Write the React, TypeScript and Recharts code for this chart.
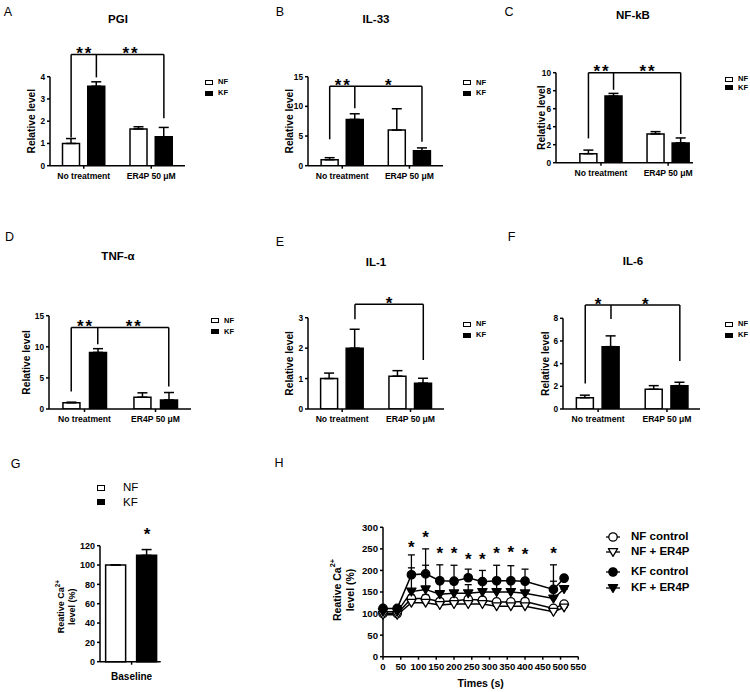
import React from "react";
import {
  ComposedChart,
  Bar,
  Line,
  XAxis,
  YAxis,
  ErrorBar,
  Cell,
  ReferenceLine,
  ReferenceDot,
} from "recharts";

const FONT = "'Liberation Sans', Arial, Helvetica, sans-serif";

// shared categories / series of the bar panels
const GROUPS = ["No treatment", "ER4P 50 μM"];
const SERIES = ["NF", "KF"];

// A  PGI
const PGI_NF = [1.0, 1.65];
const PGI_NF_ERR = [0.22, 0.1];
const PGI_KF = [3.57, 1.3];
const PGI_KF_ERR = [0.2, 0.42];
// B  IL-33
const IL33_NF = [1.0, 6.0];
const IL33_NF_ERR = [0.35, 3.6];
const IL33_KF = [7.8, 2.5];
const IL33_KF_ERR = [0.95, 0.5];
// C  NF-kB
const NFKB_NF = [1.0, 3.2];
const NFKB_NF_ERR = [0.4, 0.25];
const NFKB_KF = [7.4, 2.2];
const NFKB_KF_ERR = [0.3, 0.55];
// D  TNF-α
const TNF_NF = [1.0, 1.9];
const TNF_NF_ERR = [0.1, 0.7];
const TNF_KF = [9.1, 1.45];
const TNF_KF_ERR = [0.6, 1.2];
// E  IL-1
const IL1_NF = [1.0, 1.08];
const IL1_NF_ERR = [0.18, 0.18];
const IL1_KF = [2.0, 0.85];
const IL1_KF_ERR = [0.62, 0.16];
// F  IL-6
const IL6_NF = [1.0, 1.74];
const IL6_NF_ERR = [0.22, 0.32];
const IL6_KF = [5.5, 2.06];
const IL6_KF_ERR = [0.95, 0.3];

// G  baseline Ca2+
const G_GROUP = ["Baseline"];
const G_NF = [100];
const G_NF_ERR = [0];
const G_KF = [110];
const G_KF_ERR = [6];
const G_Y_TICKS = [0, 20, 40, 60, 80, 100, 120];
const G_STAR_Y = 136;

// H  Ca2+ time course
const H_SERIES = ["NF control", "NF + ER4P", "KF control", "KF + ER4P"];
const TIMES = [0, 40, 80, 120, 160, 200, 240, 280, 320, 360, 400, 480, 510];
const NF_CONTROL = [100, 100, 135, 135, 128, 129, 133, 131, 127, 127, 128, 112, 122];
const NF_CONTROL_ERR = [3, 3, 8, 8, 6, 6, 7, 6, 6, 6, 6, 6, 5];
const NF_ER4P = [97, 97, 125, 125, 120, 122, 122, 122, 117, 117, 117, 104, 114];
const NF_ER4P_ERR = [3, 3, 5, 5, 5, 5, 5, 5, 5, 5, 5, 5, 4];
const KF_CONTROL = [112, 112, 190, 192, 176, 175, 183, 174, 176, 176, 175, 156, 182];
const KF_CONTROL_ERR = [4, 4, 46, 58, 37, 37, 20, 26, 36, 35, 28, 57, 0];
const KF_ER4P = [104, 104, 151, 156, 145, 147, 147, 150, 150, 150, 147, 135, 157];
const KF_ER4P_ERR = [4, 4, 55, 56, 33, 25, 20, 20, 30, 30, 25, 40, 0];
const H_X_TICKS = [0, 50, 100, 150, 200, 250, 300, 350, 400, 450, 500, 550];
const H_Y_TICKS = [0, 50, 100, 150, 200, 250, 300];
const STAR_TIMES = [80, 120, 160, 200, 240, 280, 320, 360, 400, 480];
const STAR_Y = [264, 286, 248, 248, 234, 234, 250, 252, 246, 249];

// ---- layout helpers ----
type Geo = { left: number; top: number; w: number; h: number; x0: number; x1: number; yt: number; yb: number };
const YW = 30;
const XH = 30;
const margins = (g: Geo) => ({
  left: g.x0 - g.left - YW,
  right: g.left + g.w - g.x1,
  top: g.yt - g.top,
  bottom: g.top + g.h - g.yb - XH,
});

const axisStroke = { stroke: "#000", strokeWidth: 1.5 };
const tickFont = (size: number) => ({ fill: "#000", fontSize: size, fontWeight: 700, fontFamily: FONT });

function Txt({ x, y, size, bold, anchor, children }: any) {
  return (
    <div
      style={{
        position: "absolute",
        left: x,
        top: y,
        transform: anchor === "start" ? "translate(0,-50%)" : "translate(-50%,-50%)",
        fontFamily: FONT,
        fontSize: size,
        fontWeight: bold ? 700 : 400,
        lineHeight: 1,
        whiteSpace: "nowrap",
        color: "#000",
      }}
    >
      {children}
    </div>
  );
}

// rotated y-axis title, lines drawn left-to-right
const yTitle = (lines: React.ReactNode[], dist: number, size: number, gap: number, dyc = 0) => (props: any) => {
  const vb = props.viewBox || {};
  const cx = vb.x + vb.width - dist;
  const cy = vb.y + vb.height / 2 + dyc;
  return (
    <g transform={`translate(${cx},${cy}) rotate(-90)`}>
      {lines.map((ln, i) => (
        <text
          key={i}
          x={0}
          y={(i - (lines.length - 1) / 2) * gap}
          textAnchor="middle"
          dominantBaseline="central"
          fontFamily={FONT}
          fontWeight={700}
          fontSize={size}
          fill="#000"
        >
          {ln}
        </text>
      ))}
    </g>
  );
};

const starShape = (txt: string, size: number, lift: number) => (p: any) => (
  <text
    x={p.cx + (txt.length > 1 ? 1 : 0)}
    y={p.cy - lift + size * 0.57}
    textAnchor="middle"
    fontFamily={FONT}
    fontWeight={700}
    fontSize={size}
    letterSpacing={txt.length > 1 ? 2 : 0}
    fill="#000"
  >
    {txt}
  </text>
);

// ---- bar panels A–F ----
const BAR_D = 0.187;
const barX = (i: number) => Math.floor(i / 2) + 1 + (i % 2 ? BAR_D : -BAR_D);

type Bracket = { top: number; legs: [number, number][]; stars: [number, number, string][] };
type Panel = {
  id: string;
  title: string;
  geo: Geo;
  lo: number;
  hi: number;
  yMax: number;
  yTicks: number[];
  nf: number[];
  nfErr: number[];
  kf: number[];
  kfErr: number[];
  bracket: Bracket;
  letterAt: [number, number];
  titleAt: [number, number];
  legAt: [number, number, number];
  labelDist: number;
};

const PANELS: Panel[] = [
  {
    id: "A", title: "PGI",
    geo: { left: 0, top: 0, w: 250, h: 220, x0: 50, x1: 185, yt: 76.7, yb: 165.7 },
    lo: 0.5, hi: 2.5, yMax: 4, yTicks: [0, 1, 2, 3, 4],
    nf: PGI_NF, nfErr: PGI_NF_ERR, kf: PGI_KF, kfErr: PGI_KF_ERR,
    bracket: { top: 5.0, legs: [[0, 1.27], [1, 3.97], [3, 2.13]], stars: [[0, 1, "**"], [1, 3, "**"]] },
    letterAt: [8, 12], titleAt: [118, 20], legAt: [205, 82, 11], labelDist: 18.3,
  },
  {
    id: "B", title: "IL-33",
    geo: { left: 250, top: 0, w: 250, h: 220, x0: 308, x1: 443, yt: 76.7, yb: 165.7 },
    lo: 0.49, hi: 2.5, yMax: 15, yTicks: [0, 5, 10, 15],
    nf: IL33_NF, nfErr: IL33_NF_ERR, kf: IL33_KF, kfErr: IL33_KF_ERR,
    bracket: { top: 13.4, legs: [[0, 4.45], [1, 9.7], [3, 4.05]], stars: [[0, 1, "**"], [1, 3, "*"]] },
    letterAt: [280, 12], titleAt: [376, 20], legAt: [463, 82.5, 10.5], labelDist: 19,
  },
  {
    id: "C", title: "NF-kB",
    geo: { left: 500, top: 0, w: 250, h: 220, x0: 556, x1: 693, yt: 72.7, yb: 162.7 },
    lo: 0.33, hi: 2.37, yMax: 10, yTicks: [0, 2, 4, 6, 8, 10],
    nf: NFKB_NF, nfErr: NFKB_NF_ERR, kf: NFKB_KF, kfErr: NFKB_KF_ERR,
    bracket: { top: 10.0, legs: [[0, 2.7], [1, 8.1], [3, 3.2]], stars: [[0, 1, "**"], [1, 3, "**"]] },
    letterAt: [509, 12], titleAt: [633, 16], legAt: [725, 79.3, 8.5], labelDist: 15,
  },
  {
    id: "D", title: "TNF-α",
    geo: { left: 0, top: 220, w: 250, h: 230, x0: 49, x1: 191, yt: 315.7, yb: 409 },
    lo: 0.5, hi: 2.5, yMax: 15, yTicks: [0, 5, 10, 15],
    nf: TNF_NF, nfErr: TNF_NF_ERR, kf: TNF_KF, kfErr: TNF_KF_ERR,
    bracket: { top: 13.1, legs: [[0, 2.8], [1, 10.4], [3, 3.6]], stars: [[0, 1, "**"], [1, 3, "**"]] },
    letterAt: [9.5, 236.5], titleAt: [118, 257], legAt: [211, 320.7, 11], labelDist: 22.3,
  },
  {
    id: "E", title: "IL-1",
    geo: { left: 250, top: 220, w: 250, h: 230, x0: 308, x1: 444, yt: 317.7, yb: 409 },
    lo: 0.5, hi: 2.49, yMax: 3, yTicks: [0, 1, 2, 3],
    nf: IL1_NF, nfErr: IL1_NF_ERR, kf: IL1_KF, kfErr: IL1_KF_ERR,
    bracket: { top: 3.44, legs: [[1, 2.95], [3, 1.61]], stars: [[1, 3, "*"]] },
    letterAt: [280, 241.5], titleAt: [376, 263], legAt: [463, 324, 11], labelDist: 18.7,
  },
  {
    id: "F", title: "IL-6",
    geo: { left: 500, top: 220, w: 250, h: 230, x0: 563, x1: 700, yt: 318.3, yb: 409 },
    lo: 0.49, hi: 2.48, yMax: 8, yTicks: [0, 2, 4, 6, 8],
    nf: IL6_NF, nfErr: IL6_NF_ERR, kf: IL6_KF, kfErr: IL6_KF_ERR,
    bracket: { top: 9.18, legs: [[0, 2.26], [1, 7.94], [3, 4.24]], stars: [[0, 1, "*"], [1, 3, "*"]] },
    letterAt: [511.5, 237], titleAt: [633, 262], legAt: [725, 324, 11], labelDist: 18,
  },
];

function BarPanel({ p }: { p: Panel }) {
  const g = p.geo;
  const rows: any[] = [];
  GROUPS.forEach((_, k) => {
    rows.push({ x: barX(k * 2), v: p.nf[k], err: [0, p.nfErr[k]], s: 0 });
    rows.push({ x: barX(k * 2 + 1), v: p.kf[k], err: [0, p.kfErr[k]], s: 1 });
  });
  const b = p.bracket;
  const legXs = b.legs.map(([i]) => barX(i));
  return (
    <>
      <Txt x={p.letterAt[0]} y={p.letterAt[1]} size={12.5}>{p.id}</Txt>
      <Txt x={p.titleAt[0]} y={p.titleAt[1]} size={11.5} bold>{p.title}</Txt>
      <div style={{ position: "absolute", left: g.left, top: g.top }}>
        <ComposedChart width={g.w} height={g.h} data={rows} margin={margins(g)}>
          <XAxis
            type="number"
            dataKey="x"
            domain={[p.lo, p.hi]}
            ticks={[1, 2]}
            interval={0}
            tickFormatter={(v: number) => GROUPS[v - 1]}
            tick={tickFont(8.6)}
            tickSize={3}
            tickMargin={4}
            axisLine={axisStroke}
            tickLine={axisStroke}
            height={XH}
            allowDataOverflow
          />
          <YAxis
            type="number"
            domain={[0, p.yMax]}
            ticks={p.yTicks}
            interval={0}
            tick={tickFont(8.3)}
            tickSize={3}
            axisLine={axisStroke}
            tickLine={axisStroke}
            width={YW}
            allowDataOverflow
            label={yTitle(["Relative level"], p.labelDist, 10.2, 0)}
          />
          <Bar dataKey="v" barSize={17} stroke="#000" strokeWidth={1.5} isAnimationActive={false}>
            {rows.map((r, i) => (
              <Cell key={i} fill={r.s ? "#000" : "#fff"} />
            ))}
            <ErrorBar dataKey="err" width={5} stroke="#000" strokeWidth={1.5} isAnimationActive={false} />
          </Bar>
          <ReferenceLine
            segment={[{ x: Math.min(...legXs), y: b.top }, { x: Math.max(...legXs), y: b.top }]}
            stroke="#000"
            strokeWidth={1.5}
            ifOverflow="visible"
          />
          {b.legs.map(([i, bottom], k) => (
            <ReferenceLine
              key={"leg" + k}
              segment={[{ x: barX(i), y: b.top }, { x: barX(i), y: bottom }]}
              stroke="#000"
              strokeWidth={1.5}
              ifOverflow="visible"
            />
          ))}
          {b.stars.map(([i, j, txt], k) => (
            <ReferenceDot
              key={"star" + k}
              x={(barX(i) + barX(j)) / 2}
              y={b.top}
              r={0}
              ifOverflow="visible"
              shape={starShape(txt, 17, 5)}
            />
          ))}
        </ComposedChart>
      </div>
      {SERIES.map((s, k) => (
        <React.Fragment key={s}>
          <div
            style={{
              position: "absolute",
              left: p.legAt[0],
              top: p.legAt[1] + k * p.legAt[2] - 2.5,
              width: 8,
              height: 5,
              boxSizing: "border-box",
              border: "1px solid #000",
              background: k ? "#000" : "#fff",
            }}
          />
          <Txt x={p.legAt[0] + 13} y={p.legAt[1] + k * p.legAt[2]} size={7.5} bold anchor="start">{s}</Txt>
        </React.Fragment>
      ))}
    </>
  );
}

// ---- panel G ----
const G_GEO: Geo = { left: 0, top: 450, w: 230, h: 242, x0: 100, x1: 160.7, yt: 545.7, yb: 661.7 };
const G_D = 0.245;
const caLines = (size: number) => [
  <>
    Reative Ca
    <tspan dy={-size * 0.4} fontSize={size * 0.7}>2+</tspan>
  </>,
  "level (%)",
];

function PanelG() {
  const rows = [
    { x: 1 - G_D, v: G_NF[0], err: [0, G_NF_ERR[0]], s: 0 },
    { x: 1 + G_D, v: G_KF[0], err: [0, G_KF_ERR[0]], s: 1 },
  ];
  return (
    <>
      <Txt x={15.5} y={464} size={12.5}>G</Txt>
      {SERIES.map((s, k) => (
        <React.Fragment key={s}>
          <div
            style={{
              position: "absolute",
              left: 97,
              top: 485 + k * 14,
              width: 8,
              height: 6,
              boxSizing: "border-box",
              border: "1.2px solid #000",
              background: k ? "#000" : "#fff",
            }}
          />
          <Txt x={123} y={488 + k * 14.5} size={11.5} anchor="start">{s}</Txt>
        </React.Fragment>
      ))}
      <div style={{ position: "absolute", left: G_GEO.left, top: G_GEO.top }}>
        <ComposedChart width={G_GEO.w} height={G_GEO.h} data={rows} margin={margins(G_GEO)}>
          <XAxis
            type="number"
            dataKey="x"
            domain={[0.5, 1.46]}
            ticks={[1]}
            interval={0}
            tickFormatter={() => G_GROUP[0]}
            tick={tickFont(10)}
            tickSize={3}
            tickMargin={8.5}
            axisLine={axisStroke}
            tickLine={axisStroke}
            height={XH}
            allowDataOverflow
          />
          <YAxis
            type="number"
            domain={[0, 120]}
            ticks={G_Y_TICKS}
            interval={0}
            tick={tickFont(9)}
            tickSize={3}
            axisLine={axisStroke}
            tickLine={axisStroke}
            width={YW}
            label={yTitle(caLines(9), 33.8, 9, 11, 3)}
          />
          <Bar dataKey="v" barSize={20} stroke="#000" strokeWidth={1.5} isAnimationActive={false}>
            {rows.map((r, i) => (
              <Cell key={i} fill={r.s ? "#000" : "#fff"} />
            ))}
            <ErrorBar dataKey="err" width={5} stroke="#000" strokeWidth={1.5} isAnimationActive={false} />
          </Bar>
          <ReferenceDot x={1 + G_D} y={G_STAR_Y} r={0} ifOverflow="visible" shape={starShape("*", 17, 0)} />
        </ComposedChart>
      </div>
    </>
  );
}

// ---- panel H ----
const H_GEO: Geo = { left: 230, top: 450, w: 520, h: 242, x0: 383, x1: 578.3, yt: 527.3, yb: 656.7 };

function Marker({ kind, cx, cy }: { kind: string; cx: number; cy: number }) {
  if (kind === "oc" || kind === "fc")
    return <circle cx={cx} cy={cy} r={4.2} fill={kind === "fc" ? "#000" : "#fff"} stroke="#000" strokeWidth={1.3} />;
  return (
    <polygon
      points={`${cx - 4.6},${cy - 3.4} ${cx + 4.6},${cy - 3.4} ${cx},${cy + 4.4}`}
      fill={kind === "ft" ? "#000" : "#fff"}
      stroke="#000"
      strokeWidth={1.3}
      strokeLinejoin="round"
    />
  );
}
const H_KINDS = ["oc", "ot", "fc", "ft"];
const dotFor = (kind: string) => (p: any) =>
  p.cx == null ? <g key={`e${p.index}`} /> : <Marker key={`d${p.index}`} kind={kind} cx={p.cx} cy={p.cy} />;

function PanelH() {
  const rows = TIMES.map((t, i) => ({
    t,
    nfc: NF_CONTROL[i],
    nfcE: [0, NF_CONTROL_ERR[i]],
    nfe: NF_ER4P[i],
    nfeE: [0, NF_ER4P_ERR[i]],
    kfc: KF_CONTROL[i],
    kfcE: [0, KF_CONTROL_ERR[i]],
    kfe: KF_ER4P[i],
    kfeE: [0, KF_ER4P_ERR[i]],
  }));
  const keys = ["nfc", "nfe", "kfc", "kfe"];
  const legY = [537, 552, 572, 588];
  return (
    <>
      <Txt x={279} y={462.5} size={12.5}>H</Txt>
      <div style={{ position: "absolute", left: H_GEO.left, top: H_GEO.top }}>
        <ComposedChart width={H_GEO.w} height={H_GEO.h} data={rows} margin={margins(H_GEO)}>
          <XAxis
            type="number"
            dataKey="t"
            domain={[0, 550]}
            ticks={H_X_TICKS}
            interval={0}
            tick={tickFont(9.6)}
            tickSize={3}
            tickMargin={3}
            axisLine={axisStroke}
            tickLine={axisStroke}
            height={XH}
            label={(props: any) => {
              const vb = props.viewBox || {};
              return (
                <text
                  x={vb.x + vb.width / 2}
                  y={vb.y + 26}
                  textAnchor="middle"
                  dominantBaseline="central"
                  fontFamily={FONT}
                  fontWeight={700}
                  fontSize={10.6}
                  fill="#000"
                >
                  Times (s)
                </text>
              );
            }}
          />
          <YAxis
            type="number"
            domain={[0, 300]}
            ticks={H_Y_TICKS}
            interval={0}
            tick={tickFont(9.6)}
            tickSize={3}
            axisLine={axisStroke}
            tickLine={axisStroke}
            width={YW}
            label={yTitle(caLines(10.5), 40, 10.5, 13, -2)}
          />
          {keys.map((k, i) => (
            <Line
              key={k}
              type="linear"
              dataKey={k}
              stroke="#000"
              strokeWidth={1.5}
              dot={dotFor(H_KINDS[i])}
              activeDot={false}
              isAnimationActive={false}
            >
              <ErrorBar dataKey={k + "E"} width={3.5} stroke="#000" strokeWidth={1.3} isAnimationActive={false} />
            </Line>
          ))}
          {STAR_TIMES.map((t, i) => (
            <ReferenceDot key={t} x={t} y={STAR_Y[i]} r={0} ifOverflow="visible" shape={starShape("*", 17, 0)} />
          ))}
        </ComposedChart>
      </div>
      {H_SERIES.map((s, i) => (
        <React.Fragment key={s}>
          <svg style={{ position: "absolute", left: 604, top: legY[i] - 6 }} width={18} height={12}>
            <line x1={2} y1={6} x2={16} y2={6} stroke="#000" strokeWidth={1.3} />
            <Marker kind={H_KINDS[i]} cx={9} cy={6} />
          </svg>
          <Txt x={631} y={legY[i]} size={11.5} bold anchor="start">{s}</Txt>
        </React.Fragment>
      ))}
    </>
  );
}

export default function App() {
  return (
    <div
      style={{
        position: "absolute",
        left: 0,
        top: 0,
        width: 750,
        height: 692,
        background: "#fff",
        overflow: "hidden",
        fontFamily: FONT,
      }}
    >
      {PANELS.map((p) => (
        <BarPanel key={p.id} p={p} />
      ))}
      <PanelG />
      <PanelH />
    </div>
  );
}
